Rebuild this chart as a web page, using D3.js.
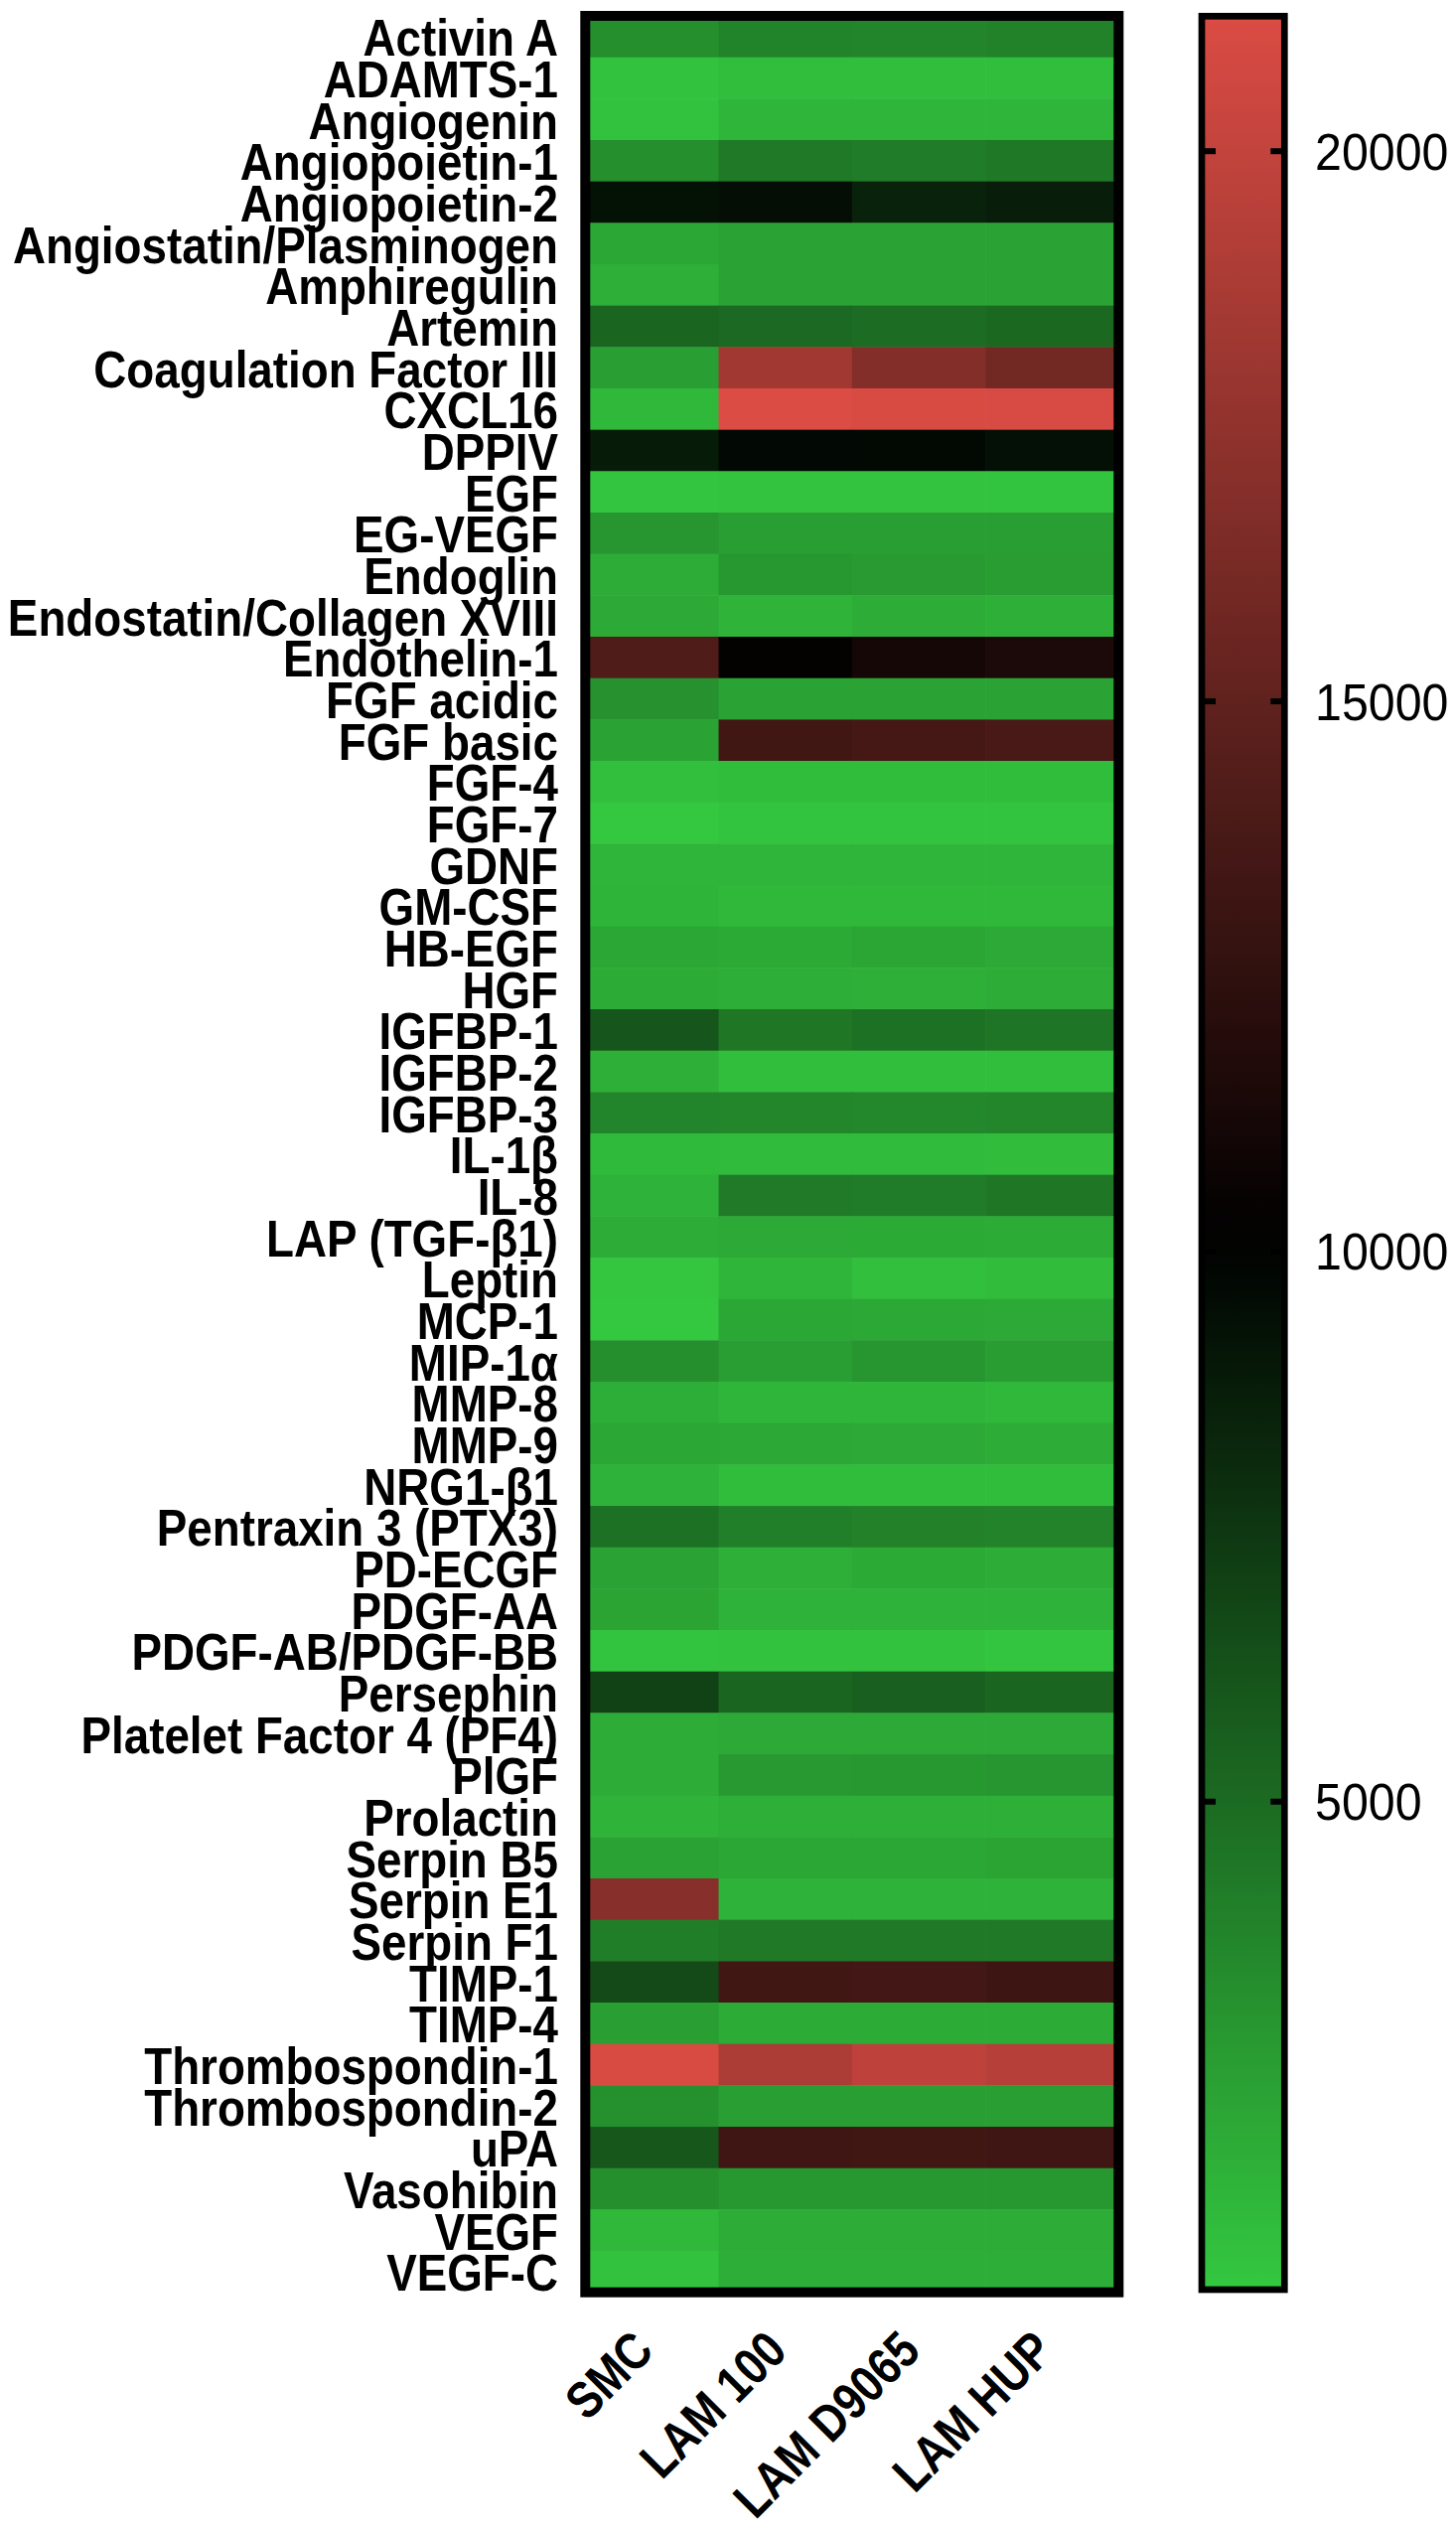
<!DOCTYPE html>
<html>
<head>
<meta charset="utf-8">
<script src="https://cdn.jsdelivr.net/npm/d3@7"></script>
<style>
  html, body { margin: 0; padding: 0; background: #ffffff; }
  svg { display: block; }
</style>
</head>
<body>
<script>
// ---------------- DATA ----------------
const categories = [
  "Activin A", "ADAMTS-1", "Angiogenin", "Angiopoietin-1", "Angiopoietin-2",
  "Angiostatin/Plasminogen", "Amphiregulin", "Artemin", "Coagulation Factor III", "CXCL16",
  "DPPIV", "EGF", "EG-VEGF", "Endoglin", "Endostatin/Collagen XVIII",
  "Endothelin-1", "FGF acidic", "FGF basic", "FGF-4", "FGF-7",
  "GDNF", "GM-CSF", "HB-EGF", "HGF", "IGFBP-1",
  "IGFBP-2", "IGFBP-3", "IL-1β", "IL-8", "LAP (TGF-β1)",
  "Leptin", "MCP-1", "MIP-1α", "MMP-8", "MMP-9",
  "NRG1-β1", "Pentraxin 3 (PTX3)", "PD-ECGF", "PDGF-AA", "PDGF-AB/PDGF-BB",
  "Persephin", "Platelet Factor 4 (PF4)", "PlGF", "Prolactin", "Serpin B5",
  "Serpin E1", "Serpin F1", "TIMP-1", "TIMP-4", "Thrombospondin-1",
  "Thrombospondin-2", "uPA", "Vasohibin", "VEGF", "VEGF-C"
];

const groups = ["SMC", "LAM 100", "LAM D9065", "LAM HUP"];

const smcValues = [
  3300, 850, 850, 3350, 9300,
  2150, 1750, 5300, 2550, 1350,
  8800, 700, 2950, 1850, 2050,
  14200, 3200, 2400, 1000, 565,
  1450, 1500, 2150, 1950, 6050,
  1750, 3750, 1250, 1600, 1900,
  650, 600, 3350, 1800, 2150,
  1600, 4700, 2350, 2300, 750,
  6950, 1900, 1850, 1550, 2400,
  17000, 4100, 6550, 2550, 21100,
  3250, 5950, 3300, 1350, 850
];

const lam100Values = [
  3800, 1050, 1450, 4350, 9450,
  2350, 2400, 5100, 18300, 21227,
  9700, 800, 2550, 2900, 1550,
  10300, 2350, 13400, 1100, 750,
  1400, 1350, 2000, 1800, 4450,
  1050, 3700, 1200, 4300, 2050,
  1400, 2150, 2550, 1400, 2100,
  1100, 4050, 1750, 1600, 850,
  5250, 2050, 2850, 1750, 2150,
  1600, 4350, 13400, 1950, 18900,
  2500, 13300, 2900, 1850, 1800
];

const lamD9065Values = [
  3750, 1050, 1400, 4200, 8500,
  2350, 2350, 4950, 16800, 21100,
  9650, 800, 2550, 2750, 1850,
  11100, 2350, 13600, 1100, 750,
  1400, 1350, 2200, 1750, 4700,
  1050, 3650, 1200, 4200, 2000,
  1000, 2100, 2950, 1400, 2050,
  1100, 3950, 2000, 1600, 850,
  5550, 2050, 2900, 1750, 2150,
  1600, 4350, 13500, 1950, 19800,
  2500, 13400, 2900, 1850, 1800
];

const lamHUPValues = [
  3900, 1050, 1450, 4400, 8650,
  2350, 2350, 5150, 15900, 21150,
  9350, 750, 2550, 2600, 1700,
  11500, 2350, 13800, 1100, 750,
  1400, 1350, 2050, 1900, 4500,
  1050, 3700, 1150, 4450, 1950,
  1150, 2050, 2600, 1350, 1850,
  1100, 3850, 1850, 1600, 700,
  5250, 2050, 2950, 1750, 2300,
  1600, 4350, 13200, 1950, 19400,
  2500, 13300, 2900, 1850, 1800
];

const colorDomain = [565, 10100, 21227];
const colorTicks = [5000, 10000, 15000, 20000];
const tickLabels = ["5000", "10000", "15000", "20000"];

// ---------------- BUILD ----------------
const seriesByGroup = [smcValues, lam100Values, lamD9065Values, lamHUPValues];
const cells = [];
categories.forEach((c, i) => {
  groups.forEach((g, j) => {
    cells.push({ cat: c, group: g, value: seriesByGroup[j][i] });
  });
});

const W = 1466, H = 2549;
const svg = d3.select("body").append("svg")
  .attr("width", W).attr("height", H)
  .attr("viewBox", `0 0 ${W} ${H}`);

svg.append("rect").attr("width", W).attr("height", H).attr("fill", "#ffffff");

const color = d3.scaleLinear()
  .domain(colorDomain)
  .range(["rgb(52,200,64)", "rgb(0,0,0)", "rgb(218,76,68)"])
  .clamp(true);

const heatLeft = 589.3, heatRight = 1126.3, heatTop = 16, heatBottom = 2307.7;

const x = d3.scaleBand().domain(groups).range([heatLeft, heatRight]).padding(0);
const y = d3.scaleBand().domain(categories).range([heatTop, heatBottom]).padding(0);

// cells
svg.append("g").selectAll("rect")
  .data(cells)
  .join("rect")
  .attr("x", d => x(d.group))
  .attr("y", d => y(d.cat))
  .attr("width", x.bandwidth() + 0.5)
  .attr("height", y.bandwidth() + 0.5)
  .attr("fill", d => color(d.value));

// frame
svg.append("rect")
  .attr("x", heatLeft).attr("y", heatTop)
  .attr("width", heatRight - heatLeft).attr("height", heatBottom - heatTop)
  .attr("fill", "none").attr("stroke", "#000").attr("stroke-width", 10);

const FONT = "'Liberation Sans', Arial, Helvetica, sans-serif";

// row labels
svg.append("g").selectAll("text")
  .data(categories)
  .join("text")
  .attr("transform", d => `translate(562, ${y(d) + y.bandwidth() / 2 + 19.5}) scale(0.88, 1)`)
  .attr("text-anchor", "end")
  .attr("font-family", FONT)
  .attr("font-weight", "bold")
  .attr("font-size", 52)
  .attr("fill", "#000")
  .text(d => d);

// column labels (rotated)
svg.append("g").selectAll("text")
  .data(groups)
  .join("text")
  .attr("transform", d => `translate(${x(d) + x.bandwidth() / 2 + 4}, 2369) rotate(-45) scale(0.85, 1)`)
  .attr("text-anchor", "end")
  .attr("font-family", FONT)
  .attr("font-weight", "bold")
  .attr("font-size", 52)
  .attr("fill", "#000")
  .text(d => d);

// ---------------- COLOR BAR ----------------
const cbLeft = 1210, cbRight = 1293.3, cbTop = 16.3, cbBottom = 2305;
const cbScale = d3.scaleLinear().domain([colorDomain[0], colorDomain[2]]).range([cbBottom, cbTop]);

const defs = svg.append("defs");
const grad = defs.append("linearGradient")
  .attr("id", "cbgrad")
  .attr("x1", 0).attr("y1", 1).attr("x2", 0).attr("y2", 0);
const nStops = 40;
d3.range(nStops + 1).forEach(k => {
  const v = colorDomain[0] + (colorDomain[2] - colorDomain[0]) * k / nStops;
  grad.append("stop").attr("offset", k / nStops).attr("stop-color", color(v));
});

svg.append("rect")
  .attr("x", cbLeft).attr("y", cbTop)
  .attr("width", cbRight - cbLeft).attr("height", cbBottom - cbTop)
  .attr("fill", "url(#cbgrad)");

// ticks inside on both sides
const tickG = svg.append("g");
colorTicks.forEach(t => {
  const ty = cbScale(t);
  tickG.append("line")
    .attr("x1", cbLeft).attr("x2", cbLeft + 14)
    .attr("y1", ty).attr("y2", ty)
    .attr("stroke", "#000").attr("stroke-width", 6);
  tickG.append("line")
    .attr("x1", cbRight - 14).attr("x2", cbRight)
    .attr("y1", ty).attr("y2", ty)
    .attr("stroke", "#000").attr("stroke-width", 6);
});

svg.append("rect")
  .attr("x", cbLeft).attr("y", cbTop)
  .attr("width", cbRight - cbLeft).attr("height", cbBottom - cbTop)
  .attr("fill", "none").attr("stroke", "#000").attr("stroke-width", 6.7);

svg.append("g").selectAll("text")
  .data(colorTicks)
  .join("text")
  .attr("transform", (d, i) => `translate(1324, ${cbScale(d) + 18.5}) scale(0.93, 1)`)
  .attr("font-family", FONT)
  .attr("font-size", 52)
  .attr("fill", "#000")
  .text((d, i) => tickLabels[i]);
</script>
</body>
</html>
